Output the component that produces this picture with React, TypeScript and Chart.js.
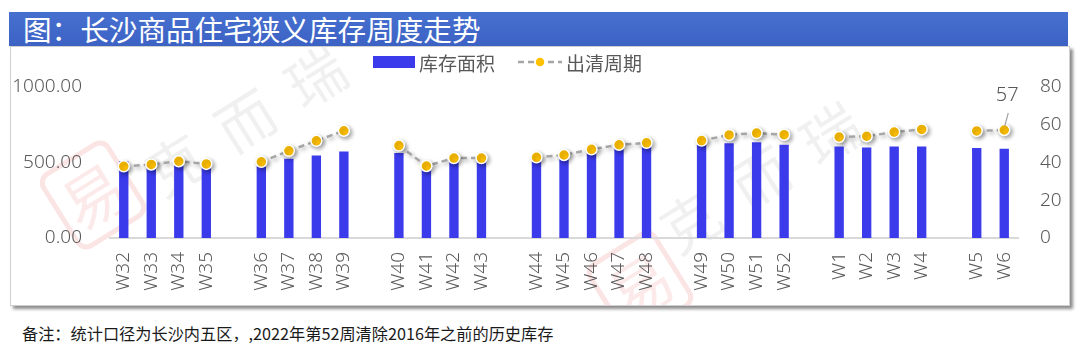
import React, { useEffect, useRef } from "react";
import { Chart, registerables } from "chart.js";

Chart.register(...registerables);

const weekLabels: string[] = [
  "W32", "W33", "W34", "W35", "",
  "W36", "W37", "W38", "W39", "",
  "W40", "W41", "W42", "W43", "",
  "W44", "W45", "W46", "W47", "W48", "",
  "W49", "W50", "W51", "W52", "",
  "W1", "W2", "W3", "W4", "",
  "W5", "W6",
];

const inventoryArea: (number | null)[] = [
  506, 475, 495, 465, null,
  474, 522, 545, 571, null,
  560, 463, 517, 517, null,
  506, 528, 560, 593, 604, null,
  615, 625, 632, 615, null,
  604, 597, 604, 604, null,
  593, 589,
];

const clearancePeriod: (number | null)[] = [
  37.8, 38.8, 40.5, 39.1, null,
  40.2, 46, 51.3, 56.6, null,
  48.8, 38, 42.2, 42.2, null,
  42.6, 43.8, 46.8, 49.2, 50.2, null,
  51.4, 54.4, 55.4, 54.5, null,
  53.3, 53.7, 55.9, 57.3, null,
  56.5, 57,
];

const seriesNames = ["库存面积", "出清周期"];
const titleText = "图：长沙商品住宅狭义库存周度走势";
const noteText = "备注：统计口径为长沙内五区，,2022年第52周清除2016年之前的历史库存";
const watermarkChars = ["克", "而", "瑞"];

const TICK_FONT = "'Noto Sans', 'Noto Sans CJK SC', sans-serif";
const CJK_FONT = "'Noto Sans CJK SC', 'Noto Sans', sans-serif";
const BAR_COLOR = "#3B3BEB";
const DOT_COLOR = "#FFC000";
const LINE_COLOR = "#A6A6A6";
const TEXT_COLOR = "#595959";

const watermarkPlugin = {
  id: "watermark",
  beforeDraw(chart: any) {
    const ctx = chart.ctx as CanvasRenderingContext2D;
    const groups = [
      { stamp: [82, 148], start: [165, 118] },
      { stamp: [629, 238], start: [680, 175] },
    ];
    const ang = (-32 * Math.PI) / 180;
    ctx.save();
    for (const g of groups) {
      ctx.save();
      ctx.translate(g.stamp[0], g.stamp[1]);
      ctx.rotate(ang);
      ctx.strokeStyle = "rgba(230,90,90,0.16)";
      ctx.lineWidth = 5;
      ctx.beginPath();
      (ctx as any).roundRect(-38, -42, 76, 84, 10);
      ctx.stroke();
      ctx.fillStyle = "rgba(230,90,90,0.13)";
      ctx.font = `62px ${CJK_FONT}`;
      ctx.textAlign = "center";
      ctx.textBaseline = "middle";
      ctx.fillText("易", 0, 2);
      ctx.restore();
      ctx.fillStyle = "rgba(0,0,0,0.06)";
      ctx.font = `58px ${CJK_FONT}`;
      ctx.textAlign = "center";
      ctx.textBaseline = "middle";
      watermarkChars.forEach((ch, i) => {
        ctx.save();
        ctx.translate(g.start[0] + i * 70, g.start[1] - i * 44);
        ctx.rotate(ang);
        ctx.fillText(ch, 0, 0);
        ctx.restore();
      });
    }
    ctx.restore();
  },
};

const shadowPlugin = {
  id: "lineShadow",
  beforeDatasetDraw(chart: any, args: any) {
    if (args.index !== 1) return;
    const ctx = chart.ctx as CanvasRenderingContext2D;
    ctx.save();
    ctx.shadowColor = "rgba(0,0,0,0.35)";
    ctx.shadowBlur = 4;
    ctx.shadowOffsetX = 2;
    ctx.shadowOffsetY = 2;
  },
  afterDatasetDraw(chart: any, args: any) {
    if (args.index !== 1) return;
    chart.ctx.restore();
  },
};

const lastLabelPlugin = {
  id: "lastLabel",
  afterDatasetsDraw(chart: any) {
    const meta = chart.getDatasetMeta(1);
    const data = chart.data.datasets[1].data as (number | null)[];
    const idx = data.length - 1;
    const el = meta.data[idx];
    if (!el) return;
    const ctx = chart.ctx as CanvasRenderingContext2D;
    const x = el.x;
    const y = el.y;
    ctx.save();
    ctx.strokeStyle = "#A6A6A6";
    ctx.lineWidth = 1.2;
    ctx.beginPath();
    ctx.moveTo(x + 0.5, y - 4);
    ctx.lineTo(x + 4, y - 17);
    ctx.stroke();
    ctx.fillStyle = TEXT_COLOR;
    ctx.font = `300 20px ${TICK_FONT}`;
    ctx.textAlign = "center";
    ctx.textBaseline = "middle";
    ctx.fillText(String(data[idx]), x + 3, y - 35);
    ctx.restore();
  },
};

export default function App() {
  const canvasRef = useRef<HTMLCanvasElement | null>(null);

  useEffect(() => {
    if (!canvasRef.current) return;
    const tickFont = { size: 19, family: TICK_FONT, weight: "300" as any };
    const chart = new Chart(canvasRef.current, {
      type: "bar",
      data: {
        labels: weekLabels,
        datasets: [
          {
            type: "bar",
            label: seriesNames[0],
            data: inventoryArea,
            backgroundColor: BAR_COLOR,
            yAxisID: "y",
            barPercentage: 0.34,
            categoryPercentage: 1,
            order: 2,
          } as any,
          {
            type: "line",
            label: seriesNames[1],
            data: clearancePeriod,
            yAxisID: "y1",
            borderColor: LINE_COLOR,
            borderWidth: 2.5,
            borderDash: [6, 4],
            pointRadius: 5.5,
            pointBackgroundColor: DOT_COLOR,
            pointBorderColor: "#FFFFFF",
            pointBorderWidth: 1.5,
            spanGaps: false,
            tension: 0,
            order: 1,
          } as any,
        ],
      },
      options: {
        animation: false,
        responsive: false,
        maintainAspectRatio: false,
        layout: { padding: { top: 37, left: 0, right: 0, bottom: 0 } },
        plugins: {
          legend: { display: false },
          tooltip: { enabled: false },
          title: { display: false },
        },
        scales: {
          x: {
            grid: { display: false, drawTicks: false },
            border: { display: true, color: "#D9D9D9", width: 2 },
            ticks: {
              autoSkip: false,
              minRotation: 90,
              maxRotation: 90,
              padding: 14,
              color: TEXT_COLOR,
              font: tickFont,
            },
            afterFit: (s: any) => {
              s.height = 67;
            },
          },
          y: {
            position: "left",
            min: 0,
            max: 1000,
            grid: { display: false, drawTicks: false },
            border: { display: false },
            ticks: {
              stepSize: 500,
              padding: 28,
              color: TEXT_COLOR,
              font: tickFont,
              callback: (v: any) => Number(v).toFixed(2),
            },
            afterFit: (s: any) => {
              s.width = 99;
            },
          },
          y1: {
            position: "right",
            min: 0,
            max: 80,
            grid: { display: false, drawTicks: false },
            border: { display: false },
            ticks: {
              stepSize: 20,
              padding: 22,
              color: TEXT_COLOR,
              font: tickFont,
            },
            afterFit: (s: any) => {
              s.width = 51;
            },
          },
        } as any,
      },
      plugins: [watermarkPlugin, shadowPlugin, lastLabelPlugin],
    });
    return () => chart.destroy();
  }, []);

  return (
    <div
      style={{
        position: "fixed",
        left: 0,
        top: 0,
        width: 1080,
        height: 355,
        background: "#FFFFFF",
        overflow: "hidden",
      }}
    >
      <div
        style={{
          position: "absolute",
          left: 9,
          top: 12,
          width: 1059,
          height: 34,
          background: "linear-gradient(#4670D0, #3C62C4)",
          color: "#FFFFFF",
          fontFamily: CJK_FONT,
          fontSize: 28.6,
          lineHeight: "34px",
          paddingLeft: 14,
          boxSizing: "border-box",
          whiteSpace: "nowrap",
        }}
      >
        {titleText}
      </div>
      <div
        style={{
          position: "absolute",
          left: 10,
          top: 46,
          width: 1060,
          height: 260,
          border: "1px solid #D0D0D0",
          boxSizing: "border-box",
          boxShadow: "3px 3px 3px rgba(0,0,0,0.45)",
          background: "#FFFFFF",
        }}
      >
        <canvas
          ref={canvasRef}
          width={1058}
          height={258}
          style={{ position: "absolute", left: 0, top: 0, width: 1058, height: 258 }}
        />
        <div
          style={{
            position: "absolute",
            left: 362,
            top: 9,
            width: 42,
            height: 12,
            background: BAR_COLOR,
          }}
        />
        <div
          style={{
            position: "absolute",
            left: 408,
            top: 4,
            height: 24,
            lineHeight: "24px",
            fontSize: 19,
            fontFamily: CJK_FONT,
            color: TEXT_COLOR,
            whiteSpace: "nowrap",
          }}
        >
          {seriesNames[0]}
        </div>
        <svg
          width={46}
          height={16}
          style={{ position: "absolute", left: 506, top: 7 }}
        >
          <line x1={1} y1={8} x2={45} y2={8} stroke={LINE_COLOR} strokeWidth={2.5} strokeDasharray="6 4" />
          <circle cx={23} cy={8} r={5} fill={DOT_COLOR} stroke="#FFFFFF" strokeWidth={1.5} />
        </svg>
        <div
          style={{
            position: "absolute",
            left: 555,
            top: 4,
            height: 24,
            lineHeight: "24px",
            fontSize: 19,
            fontFamily: CJK_FONT,
            color: TEXT_COLOR,
            whiteSpace: "nowrap",
          }}
        >
          {seriesNames[1]}
        </div>
      </div>
      <div
        style={{
          position: "absolute",
          left: 22,
          top: 321,
          height: 24,
          lineHeight: "24px",
          fontSize: 16.2,
          fontFamily: CJK_FONT,
          color: "#1A1A1A",
          whiteSpace: "nowrap",
        }}
      >
        {noteText}
      </div>
    </div>
  );
}
